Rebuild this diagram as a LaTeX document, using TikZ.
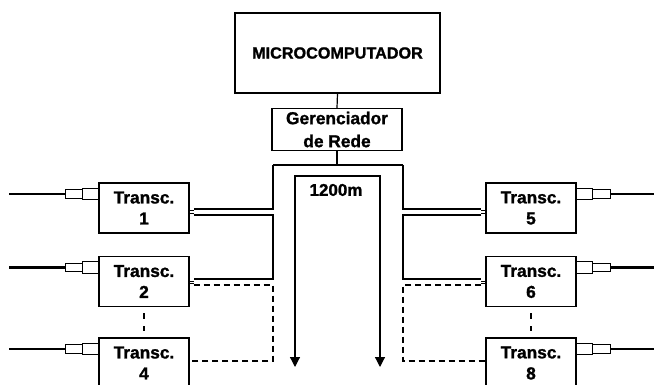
\documentclass[tikz,border=0pt]{standalone}
\usepackage{fontspec}
\setmainfont{Liberation Sans}[BoldFeatures={FakeBold=1.3}]
\usetikzlibrary{calc,arrows.meta}
\begin{document}
\begin{tikzpicture}[x=1pt,y=-1pt,
  box/.style={draw, line width=1.3pt, inner sep=0pt, align=center, font=\bfseries\fontsize{17.3}{21}\selectfont},
  tr/.style={box, minimum width=90pt, minimum height=50pt},
  ln/.style={line width=1.2pt},
  dsh/.style={ln, dash pattern=on 6pt off 4pt},
  fib/.style={line width=2.5pt},
  stub/.style={line width=0.8pt},
  tip/.style={ln, {Triangle[width=10pt,length=10pt]}-{Triangle[width=10pt,length=10pt]}}]
\useasboundingbox (0,0) rectangle (654,385);
\clip (0,0) rectangle (654,385);
% boxes
\node[box, minimum width=205pt, minimum height=80pt, font=\bfseries\fontsize{16.2}{19}\selectfont] (mc) at (337.5,53) {MICROCOMPUTADOR};
\node[box, minimum width=130pt, minimum height=42pt, font=\bfseries\fontsize{17.3}{23}\selectfont] (ger) at (337,129.5) {Gerenciador\\de Rede};
\node[tr] (t1) at (144,208) {Transc.\\1};
\node[tr] (t2) at (144,281.5) {Transc.\\2};
\node[tr] (t4) at (144,363) {Transc.\\4};
\node[tr] (t5) at (531,208) {Transc.\\5};
\node[tr] (t6) at (531,281.5) {Transc.\\6};
\node[tr] (t8) at (531,363) {Transc.\\8};
\node[font=\bfseries\fontsize{17}{20}\selectfont, inner sep=0pt] (len) at (336,190) {1200m};
% trunk
\coordinate (busL) at (273,165);
\coordinate (busR) at (403,165);
\draw[ln] (mc.south) -- (ger.north);
\draw[ln] (ger.south) -- (ger.south |- busL);
\draw[ln] (busL) -- (busR);
% inner cable with arrows
\coordinate (inL) at (295,176);
\coordinate (inR) at (380,176);
\coordinate (tipL) at (295,367);
\coordinate (tipR) at (380,367);
\draw[tip] (tipL) -- (inL) -- (inR) -- (tipR);
% left side
\draw[ln] (busL) |- ($(t1.east)+(4,1)$);
\draw[ln] ($(t1.east)+(4,7)$) -| ($(busL |- t2.east)+(0,-2.5)$) -- ($(t2.east)+(4,-2.5)$);
\draw[dsh] ($(t2.east)+(4,3.5)$) -| ($(busL |- t4.east)+(0,-2)$) -- ($(t4.east)+(0,-2)$);
\draw[stub] ($(t1.east)+(0,2.5)$) -- ++(4,0) ($(t1.east)+(0,5.5)$) -- ++(4,0);
\draw[stub] ($(t2.east)+(0,-0.5)$) -- ++(4,0) ($(t2.east)+(0,1.5)$) -- ++(4,0);
% right side
\draw[ln] (busR) |- ($(t5.west)+(-4,1)$);
\draw[ln] ($(t5.west)+(-4,7)$) -| ($(busR |- t6.west)+(0,-2.5)$) -- ($(t6.west)+(-4,-2.5)$);
\draw[dsh] ($(t6.west)+(-4,3.5)$) -| ($(busR |- t8.west)+(0,-2)$) -- ($(t8.west)+(0,-2)$);
\draw[stub] ($(t5.west)+(0,2.5)$) -- ++(-4,0) ($(t5.west)+(0,5.5)$) -- ++(-4,0);
\draw[stub] ($(t6.west)+(0,-0.5)$) -- ++(-4,0) ($(t6.west)+(0,1.5)$) -- ++(-4,0);
% dashed between transceivers
\draw[ln, dash pattern=on 6pt off 7pt] ($(t2.south)+(0,6)$) -- ($(t4.north)+(0,-6)$);
\draw[ln, dash pattern=on 6pt off 7pt] ($(t6.south)+(0,6)$) -- ($(t8.north)+(0,-6)$);
% fibre connectors
\foreach \b in {t1,t2,t4}{
  \draw[ln] ($(\b.north west)+(-16,6)$) rectangle ($(\b.north west)+(0,17.5)$);
  \draw[ln] ($(\b.north west)+(-33,7.5)$) rectangle ($(\b.north west)+(-16,16)$);
  \draw[fib] ($(\b.north west)+(-33,11.5)$) -- ($(\b.north west)+(-89,11.5)$);
}
\foreach \b in {t5,t6,t8}{
  \draw[ln] ($(\b.north east)+(16,6)$) rectangle ($(\b.north east)+(0,17.5)$);
  \draw[ln] ($(\b.north east)+(34,7.5)$) rectangle ($(\b.north east)+(16,16)$);
  \draw[fib] ($(\b.north east)+(34,11.5)$) -- ($(\b.north east)+(80,11.5)$);
}
\end{tikzpicture}
\end{document}
